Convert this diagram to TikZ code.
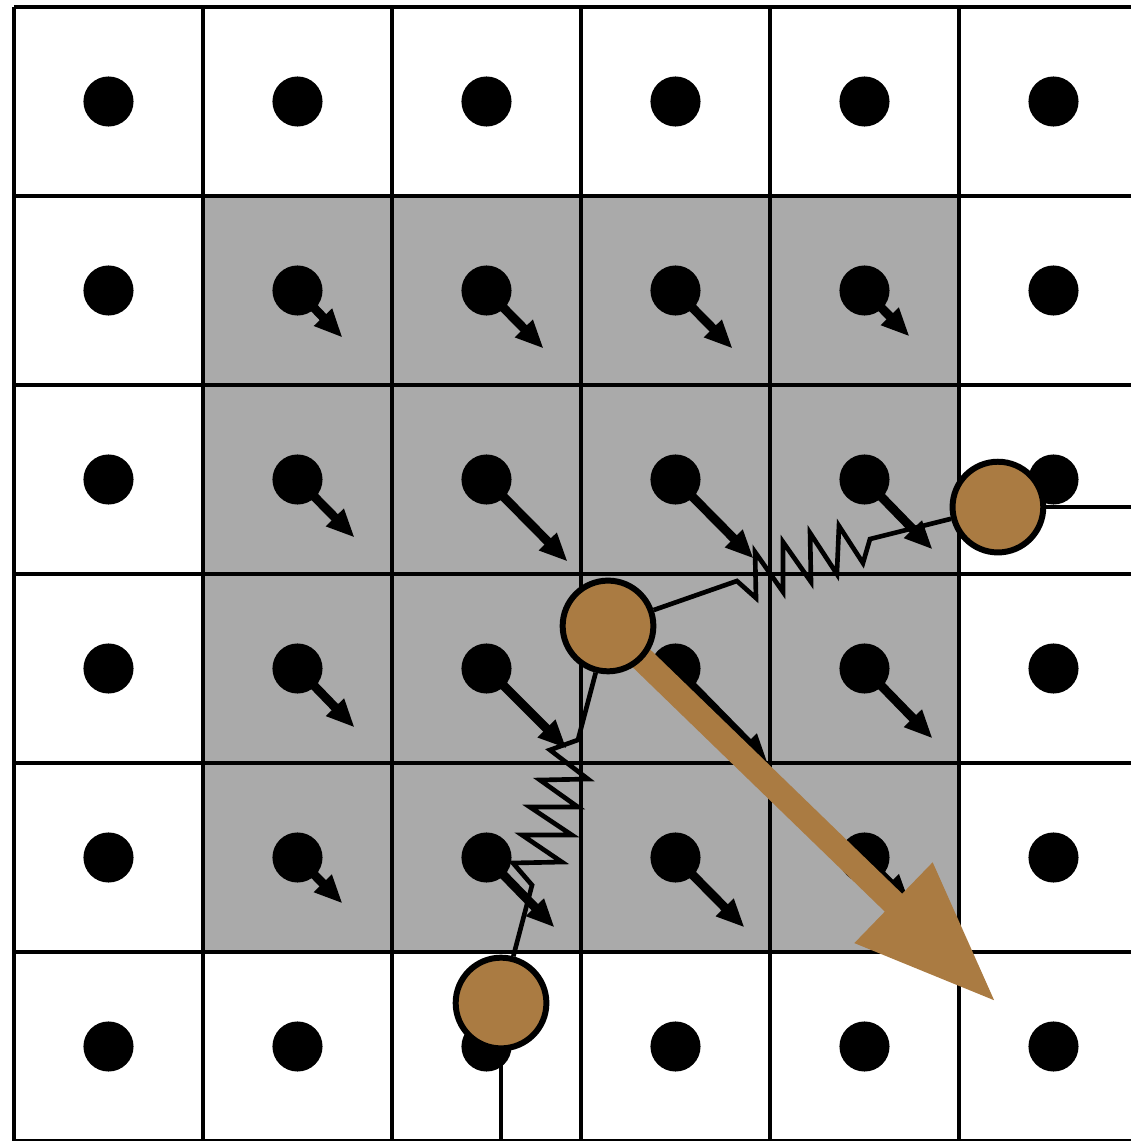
\documentclass[tikz,border=0pt]{standalone}
\usetikzlibrary{arrows.meta}
\definecolor{cellgray}{RGB}{170,170,170}
\definecolor{atombrown}{RGB}{170,123,66}

\begin{document}
\begin{tikzpicture}[x=2cm,y=2cm,
    site/.style={circle, fill=black, inner sep=0pt, minimum size=0.53cm},
    kick/.style={line width=2.7pt, -{Triangle[length=8.5pt,width=7pt]}},
    push/.style={atombrown, line width=7.5pt, -{Triangle[length=43pt,width=31.6pt]}},
    spring/.style={line width=1.4pt, line join=miter},
    tether/.style={line width=1.4pt},
    particle/.style={circle, draw=black, line width=1.8pt, fill=atombrown, inner sep=0pt, minimum size=0.96cm}]
    \useasboundingbox (-0.074,0) rectangle (5.910,6.037);
    \clip (-0.074,0) rectangle (5.910,6.037);

    % Shaded block of cells
    \fill[cellgray] (1,1) rectangle (5,5);

    % Lattice and sites
    \draw[line width=1pt, step=2cm] (0,0) grid (6,6);
    \foreach \i in {0,...,5}
        \foreach \j in {0,...,5}
            \node[site] (s\i\j) at (\i+0.5,\j+0.5) {};

    % Displacements of the sites in the shaded block
    \foreach \i/\j/\dx/\dy in {1/4/0.238/-0.249, 2/4/0.302/-0.307, 3/4/0.302/-0.307, 4/4/0.238/-0.243,
                               1/3/0.302/-0.307, 2/3/0.429/-0.434, 3/3/0.413/-0.418, 4/3/0.360/-0.370,
                               1/2/0.302/-0.312, 2/2/0.423/-0.423, 3/2/0.487/-0.497, 4/2/0.360/-0.370,
                               1/1/0.238/-0.243, 2/1/0.360/-0.370, 3/1/0.365/-0.370, 4/1/0.240/-0.240}
        \draw[kick] (s\i\j.center) -- ++(\dx,\dy);

    % Big push from the middle particle
    \coordinate (cB) at (3.143,2.725);
    \coordinate (tip) at (5.196,0.735);
    \draw[push] (cB) -- (tip);

    % Particles
    \node[particle] (pA) at (5.206,3.354) {};
    \node[particle] (pB) at (cB) {};
    \node[particle] (pC) at (2.577,0.730) {};

    % Springs between the particles
    \draw[spring] (pB) -- (3.825,2.963) -- (3.926,2.873) -- (3.921,3.116) -- (4.069,2.905)
        -- (4.069,3.169) -- (4.217,2.958) -- (4.212,3.217) -- (4.354,3.000) -- (4.365,3.254)
        -- (4.492,3.058) -- (4.529,3.185) -- (pA);
    \draw[spring] (pB) -- (2.984,2.122) -- (2.836,2.069) -- (3.037,1.915) -- (2.783,1.910)
        -- (2.984,1.767) -- (2.730,1.767) -- (2.952,1.619) -- (2.688,1.619) -- (2.899,1.476)
        -- (2.640,1.471) -- (2.741,1.354) -- (pC);

    % Tethers to the edges
    \coordinate (edgeR) at (6,0);
    \coordinate (edgeB) at (0,0);
    \draw[tether] (pA) -- (pA -| edgeR);
    \draw[tether] (pC) -- (pC |- edgeB);
\end{tikzpicture}
\end{document}
